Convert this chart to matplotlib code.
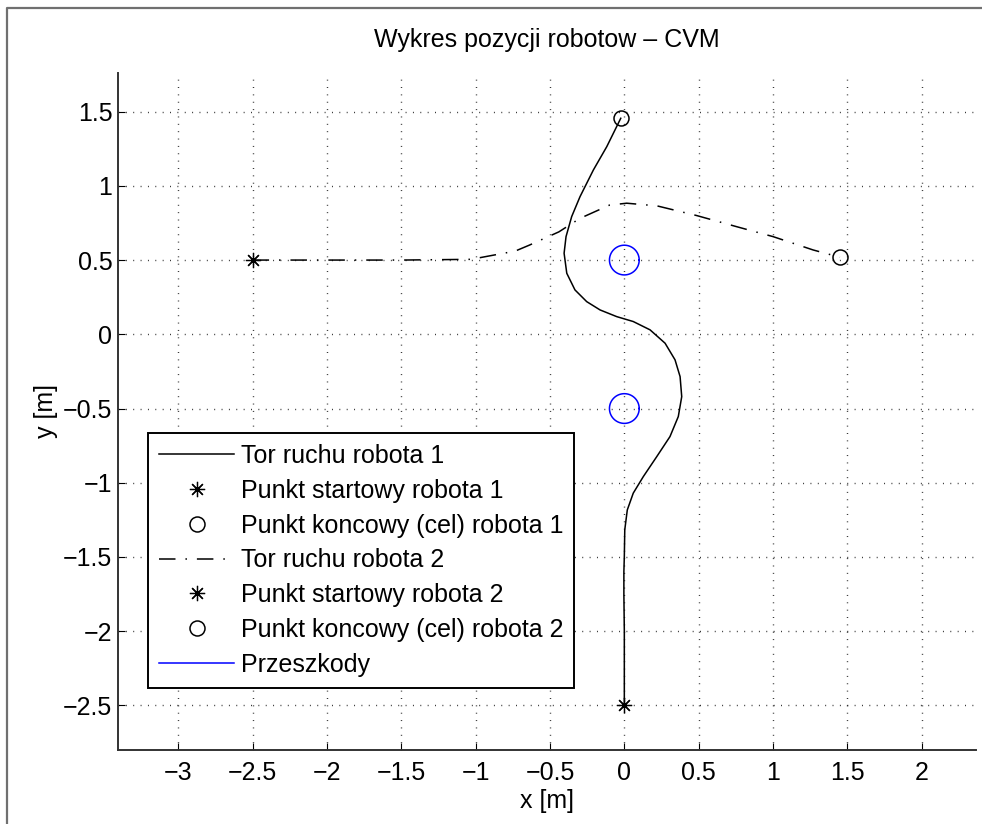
import numpy as np
import matplotlib
matplotlib.use("Agg")
import matplotlib.pyplot as plt
from matplotlib.lines import Line2D

plt.rcParams['font.family'] = ['Liberation Sans', 'DejaVu Sans']

# tor ruchu robota 1 (start na dole, cel u gory)
x1 = [0.0, 0.0, -0.003, -0.003, 0.0, 0.003, 0.02, 0.06, 0.128, 0.218, 0.307,
      0.363, 0.386, 0.375, 0.341, 0.274, 0.173, 0.06, -0.051, -0.163, -0.253,
      -0.332, -0.387, -0.405, -0.392, -0.354, -0.298, -0.208, -0.118, -0.024]
y1 = [-2.5, -2.0, -1.75, -1.6, -1.497, -1.317, -1.183, -1.07, -0.958, -0.824, -0.689,
      -0.554, -0.42, -0.285, -0.172, -0.06, 0.03, 0.086, 0.119, 0.164, 0.22,
      0.299, 0.411, 0.546, 0.658, 0.793, 0.927, 1.107, 1.264, 1.455]

# tor ruchu robota 2 (start po lewej, cel po prawej)
x2 = [-2.5, -2.0, -1.5, -1.03, -0.87, -0.735, -0.64, -0.44, -0.30, -0.10,
      0.016, 0.22, 0.486, 0.755, 1.0, 1.27, 1.45]
y2 = [0.5, 0.5, 0.5, 0.505, 0.535, 0.56, 0.60, 0.69, 0.78, 0.87,
      0.883, 0.865, 0.80, 0.725, 0.658, 0.568, 0.519]

start1 = (0.0, -2.5)
goal1 = (-0.024, 1.455)
start2 = (-2.5, 0.5)
goal2 = (1.45, 0.519)

# przeszkody
obst_x = [0.0, 0.0]
obst_y = [0.5, -0.5]
obst_r = 0.1

xticks = [-3, -2.5, -2, -1.5, -1, -0.5, 0, 0.5, 1, 1.5, 2]
yticks = [-2.5, -2, -1.5, -1, -0.5, 0, 0.5, 1, 1.5]

def fmt(v):
    s = ('%g' % v)
    return s.replace('-', '\u2212')

fs = 18
fig = plt.figure(figsize=(9.82, 8.24), dpi=100)
ax = fig.add_axes([118/982, 74/824, 858/982, 677/824])

star = (8, 2, 0)
dashdot = (0, (10.8, 6.5, 1.0, 6.5))

ax.plot(x1, y1, '-', color='k', lw=1.1, label='Tor ruchu robota 1')
ax.plot(*start1, linestyle='none', marker=star, color='k', ms=11, mew=0.9,
        label='Punkt startowy robota 1')
ax.plot(*goal1, linestyle='none', marker='o', mfc='none', mec='k', ms=10.8, mew=1.1,
        label='Punkt koncowy (cel) robota 1')
ax.plot(x2, y2, color='k', lw=1.1, linestyle=dashdot, label='Tor ruchu robota 2')
ax.plot(*start2, linestyle='none', marker=star, color='k', ms=11, mew=0.9,
        label='Punkt startowy robota 2')
ax.plot(*goal2, linestyle='none', marker='o', mfc='none', mec='k', ms=10.8, mew=1.1,
        label='Punkt koncowy (cel) robota 2')

t = np.linspace(0, 2 * np.pi, 100)
for i, (cx, cy) in enumerate(zip(obst_x, obst_y)):
    ax.plot(cx + obst_r * np.cos(t), cy + obst_r * np.sin(t), color='#0000ff', lw=1.1,
            label='Przeszkody' if i == 0 else None)

ax.set_xlim(-3.405, 2.365)
ax.set_ylim(-2.80, 1.76)
ax.set_xticks(xticks)
ax.set_yticks(yticks)
ax.set_xticklabels([fmt(v) for v in xticks])
ax.set_yticklabels([fmt(v) for v in yticks])
ax.tick_params(direction='in', length=5, width=0.8, labelsize=fs,
               top=False, right=False)
ax.tick_params(axis='x', pad=8)
ax.tick_params(axis='y', pad=4)
ax.grid(True, color='k', linestyle=(0, (0.7, 4.6)), lw=1.0, alpha=0.8)
ax.spines['top'].set_visible(False)
ax.spines['right'].set_visible(False)
for s in ('left', 'bottom'):
    ax.spines[s].set_linewidth(1.4)
    ax.spines[s].set_color('#333333')

ax.set_xlabel('x [m]', fontsize=fs, labelpad=3)
ax.set_ylabel('y [m]', fontsize=fs, labelpad=4)
ax.set_title('Wykres pozycji robotow \u2013 CVM', fontsize=fs, pad=19)

leg = ax.legend(loc='lower left', bbox_to_anchor=(0.035, 0.0916), borderaxespad=0,
                fontsize=fs, fancybox=False, framealpha=1, edgecolor='k',
                handlelength=3.0, handletextpad=0.25, labelspacing=0.43,
                borderpad=0.45)
leg.get_frame().set_linewidth(1.4)

# ramka okna wykresu
fig.add_artist(Line2D([7/982, 7/982, 1.0], [0.0, 1 - 8/824, 1 - 8/824],
                      transform=fig.transFigure, color='#707070', lw=1.6))

fig.savefig('out.png', dpi=100, facecolor='white')
